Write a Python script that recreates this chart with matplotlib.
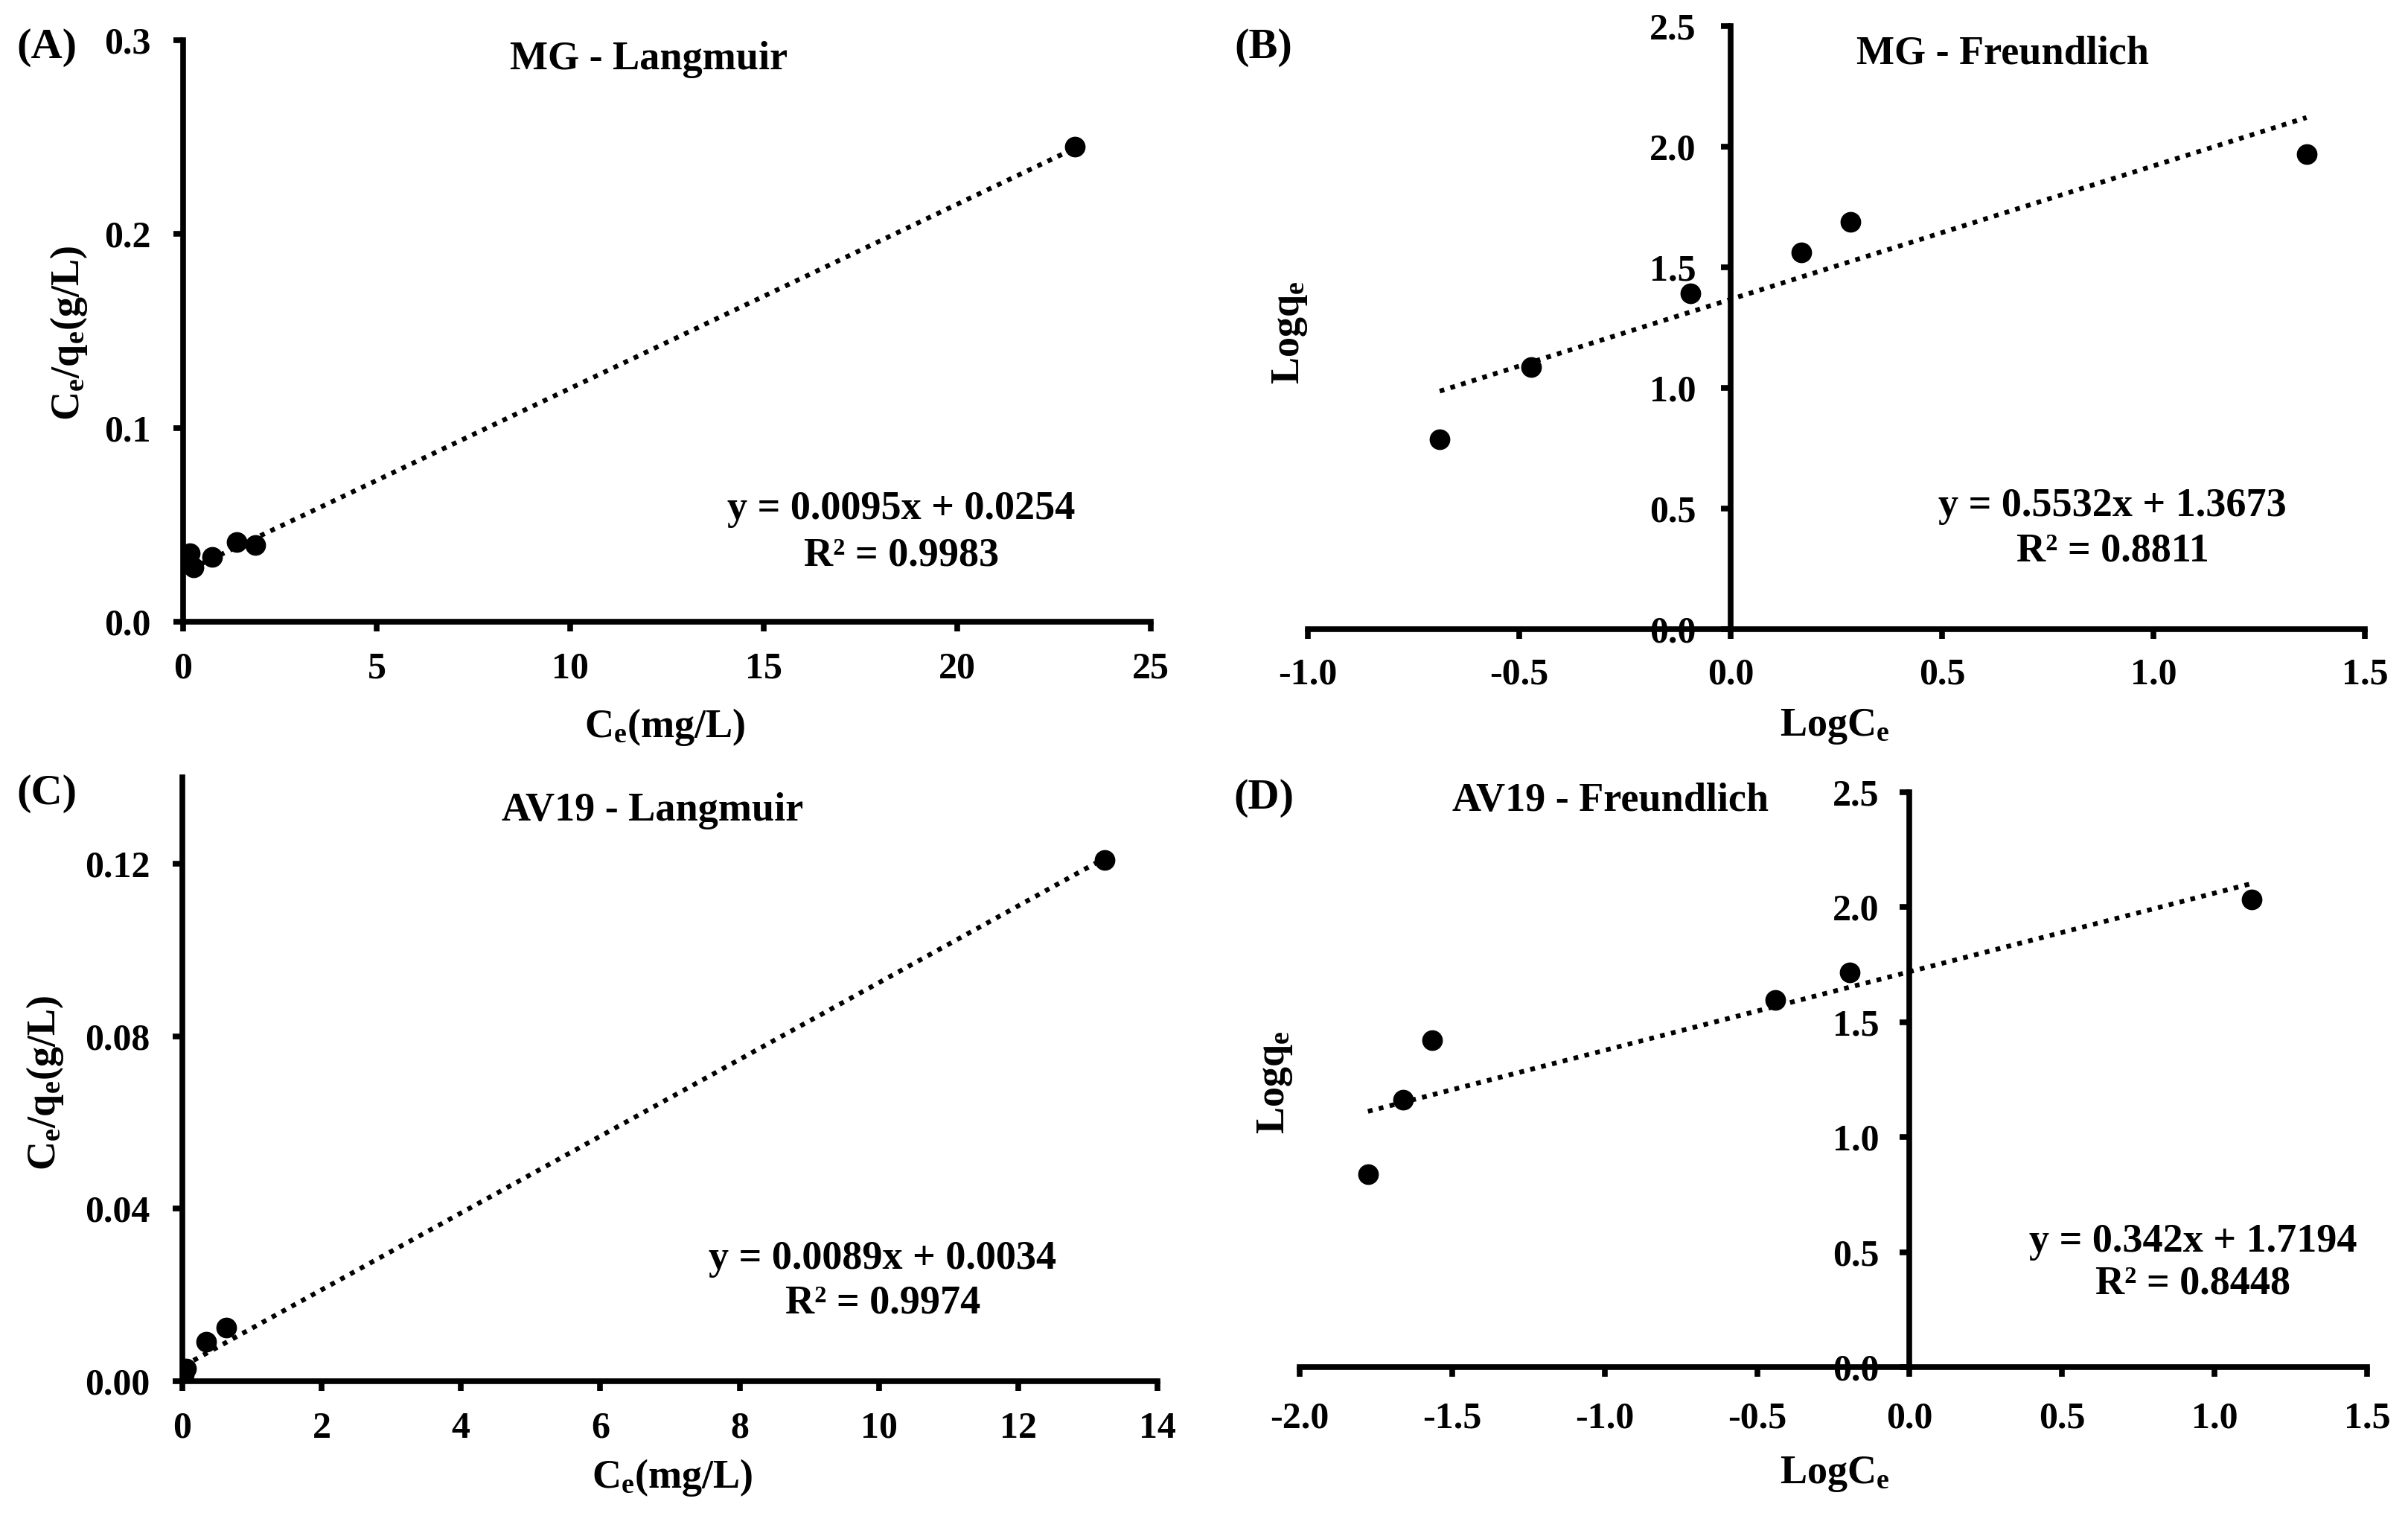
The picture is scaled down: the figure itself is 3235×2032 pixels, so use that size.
import numpy as np
import matplotlib
matplotlib.use('Agg')
import matplotlib.pyplot as plt
from matplotlib.ticker import FormatStrFormatter

plt.rcParams['font.family'] = ['Liberation Serif', 'DejaVu Serif']
plt.rcParams['font.weight'] = 'bold'
plt.rcParams['mathtext.fontset'] = 'custom'
plt.rcParams['mathtext.rm'] = 'Liberation Serif:bold'
plt.rcParams['mathtext.it'] = 'Liberation Serif:bold'
plt.rcParams['mathtext.bf'] = 'Liberation Serif:bold'

# MG - Langmuir
mg_ce = [0.17, 0.27, 0.75, 1.38, 1.87, 23.04]
mg_ceqe = [0.0354, 0.0280, 0.0335, 0.0412, 0.0396, 0.245]
mg_lang_fit = (0.0095, 0.0254)

# MG - Freundlich
mg_logce = [-0.688, -0.471, -0.095, 0.167, 0.284, 1.362]
mg_logqe = [0.787, 1.087, 1.392, 1.561, 1.687, 1.969]
mg_freu_fit = (0.5532, 1.3673)

# AV19 - Langmuir
av_ce = [0.02, 0.05, 0.34, 0.63, 13.24]
av_ceqe = [0.0015, 0.0030, 0.0091, 0.0124, 0.1209]
av_lang_fit = (0.0089, 0.0034)

# AV19 - Freundlich
av_logce = [-1.776, -1.661, -1.566, -0.440, -0.196, 1.121]
av_logqe = [0.838, 1.162, 1.422, 1.598, 1.716, 2.035]
av_freu_fit = (0.342, 1.7194)

W, H = 3235, 2032
fig = plt.figure(figsize=(W / 100, H / 100), dpi=100)

FS_TICK = 36
FS_TEXT = 39
FS_LETTER = 42


def rect(l, r, b, t):
    return [l / W, 1 - b / H, (r - l) / W, (b - t) / H]


def ftext(x, y, s, size=FS_TEXT, **kw):
    fig.text(x / W, 1 - y / H, s, ha='center', va='center', fontsize=size,
             fontweight='bold', **kw)


def panel(r, xs, ys, fit, xlim, ylim, xticks, yticks, xfmt, yfmt, zero_y=False,
          xpad=20, ypad=20):
    ax = fig.add_axes(r)
    ax.set_xlim(*xlim)
    ax.set_ylim(*ylim)
    xx = np.array([min(xs), max(xs)])
    ax.plot(xx, fit[0] * xx + fit[1], color='black', lw=4.6,
            ls=(0, (1, 1.35)), zorder=2)
    ax.plot(xs, ys, 'o', color='black', ms=19, zorder=3)
    ax.spines['top'].set_visible(False)
    ax.spines['right'].set_visible(False)
    for s in ('left', 'bottom'):
        ax.spines[s].set_linewidth(5.5)
        ax.spines[s].set_zorder(4)
    if zero_y:
        ax.spines['left'].set_position(('data', 0))
    ax.set_xticks(xticks)
    ax.set_yticks(yticks)
    ax.xaxis.set_major_formatter(FormatStrFormatter(xfmt))
    ax.yaxis.set_major_formatter(FormatStrFormatter(yfmt))
    ax.tick_params(direction='out', length=9.5, width=5.5, labelsize=FS_TICK)
    ax.tick_params(axis='x', pad=xpad)
    ax.tick_params(axis='y', pad=ypad)
    for lab in ax.get_xticklabels() + ax.get_yticklabels():
        lab.set_fontweight('bold')
    ax.patch.set_alpha(0)
    return ax


# (A)
panel(rect(246, 1546, 835, 54), mg_ce, mg_ceqe, mg_lang_fit, (0, 25), (0, 0.3),
      np.arange(0, 26, 5), [0, 0.1, 0.2, 0.3], '%d', '%.1f', xpad=20, ypad=22)
# (B)
panel(rect(1757, 3177, 845, 35), mg_logce, mg_logqe, mg_freu_fit, (-1, 1.5), (0, 2.5),
      np.arange(-1, 1.51, 0.5), np.arange(0, 2.51, 0.5), '%.1f', '%.1f',
      zero_y=True, xpad=18, ypad=24)
# (C)
panel(rect(245, 1555, 1855, 1044), av_ce, av_ceqe, av_lang_fit, (0, 14), (0, 0.14),
      np.arange(0, 15, 2), [0, 0.04, 0.08, 0.12], '%d', '%.2f', xpad=20, ypad=22)
# (D)
panel(rect(1746, 3180, 1836, 1064), av_logce, av_logqe, av_freu_fit, (-2, 1.5), (0, 2.5),
      np.arange(-2, 1.51, 0.5), np.arange(0, 2.51, 0.5), '%.1f', '%.1f',
      zero_y=True, xpad=24, ypad=20)

# panel letters
ftext(63, 64, '(A)', size=FS_LETTER)
ftext(1697, 64, '(B)', size=FS_LETTER)
ftext(63, 1066, '(C)', size=FS_LETTER)
ftext(1698, 1072, '(D)', size=FS_LETTER)

# titles
ftext(872, 80, 'MG - Langmuir')
ftext(2691, 73, 'MG - Freundlich')
ftext(877, 1089, 'AV19 - Langmuir')
ftext(2164, 1076, 'AV19 - Freundlich')

# equations
ftext(1211, 684, 'y = 0.0095x + 0.0254')
ftext(1211, 747, 'R² = 0.9983')
ftext(2838, 680, 'y = 0.5532x + 1.3673')
ftext(2838, 740, 'R² = 0.8811')
ftext(1186, 1691, 'y = 0.0089x + 0.0034')
ftext(1186, 1750, 'R² = 0.9974')
ftext(2946, 1668, 'y = 0.342x + 1.7194')
ftext(2946, 1724, 'R² = 0.8448')

# axis labels
ftext(893, 976, r'C$_\mathregular{e}$(mg/L)')
ftext(2465, 976, r'LogC$_\mathregular{e}$')
ftext(903, 1984, r'C$_\mathregular{e}$(mg/L)')
ftext(2465, 1980, r'LogC$_\mathregular{e}$')
ftext(92, 447, r'C$_\mathregular{e}$/q$_\mathregular{e}$(g/L)', rotation=90)
ftext(1733, 447, r'Logq$_\mathregular{e}$', rotation=90)
ftext(61, 1454, r'C$_\mathregular{e}$/q$_\mathregular{e}$(g/L)', rotation=90)
ftext(1713, 1454, r'Logq$_\mathregular{e}$', rotation=90)

fig.savefig('out.png', dpi=100, facecolor='white')
